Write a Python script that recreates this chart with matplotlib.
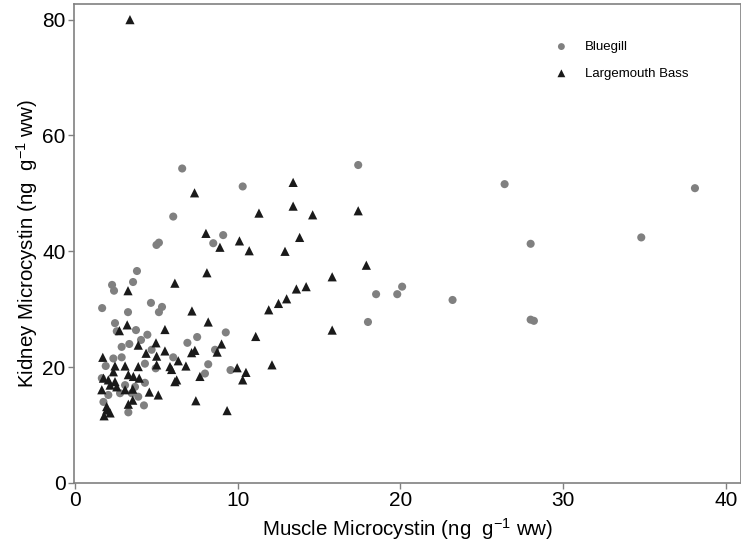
import matplotlib
matplotlib.use("Agg")
import matplotlib.pyplot as plt

plt.rcParams['font.family'] = ['Liberation Sans', 'DejaVu Sans']
plt.rcParams['mathtext.fontset'] = 'custom'
plt.rcParams['mathtext.rm'] = 'Liberation Sans'
plt.rcParams['mathtext.it'] = 'Liberation Sans'

bluegill_x = [1.66, 3.80, 3.56, 2.27, 2.39, 3.25, 4.66, 5.34, 5.15, 2.45,
              6.58, 10.3, 6.03, 5.15, 5.00, 9.10, 8.49, 17.4, 18.5, 18.0,
              9.26, 7.50, 8.60, 26.4, 38.1, 34.8, 28.0, 20.1, 19.8, 23.2,
              28.0, 28.2, 2.56, 3.74, 4.44, 2.86, 3.33, 4.05, 4.70, 6.90,
              2.35, 2.86, 1.88, 4.29, 4.95, 6.03, 1.64, 4.29, 3.07, 3.68,
              2.76, 3.48, 3.88, 2.04, 1.74, 4.23, 3.27, 8.18, 7.98, 9.55]
bluegill_y = [30.2, 36.6, 34.7, 34.2, 33.2, 29.5, 31.1, 30.4, 29.5, 27.6,
              54.3, 51.2, 46.0, 41.5, 41.1, 42.8, 41.4, 54.9, 32.6, 27.8,
              26.0, 25.2, 23.0, 51.6, 50.9, 42.4, 41.3, 33.9, 32.6, 31.6,
              28.2, 28.0, 26.2, 26.4, 25.6, 23.5, 24.0, 24.7, 23.0, 24.2,
              21.5, 21.7, 20.2, 20.6, 19.8, 21.7, 18.1, 17.3, 16.9, 16.6,
              15.5, 15.5, 14.9, 15.2, 14.0, 13.4, 12.2, 20.5, 18.9, 19.5]

bass_x = [3.37, 3.25, 6.13, 8.10, 7.18, 8.18, 3.20, 7.34, 8.04, 8.90,
          10.1, 10.7, 11.3, 13.4, 13.4, 14.6, 17.4, 13.8, 12.9, 17.9,
          15.8, 14.2, 13.6, 13.0, 12.5, 11.9, 15.8, 11.1, 9.00, 8.73,
          7.16, 7.36, 2.72, 5.52, 3.88, 4.97, 4.36, 5.01, 5.52, 1.70,
          2.45, 3.07, 3.88, 5.01, 5.83, 5.93, 6.34, 6.81, 2.35, 1.74,
          2.04, 2.45, 3.27, 3.58, 3.94, 6.24, 6.13, 7.67, 1.64, 2.15,
          2.56, 3.07, 3.54, 4.56, 5.11, 7.42, 3.54, 3.27, 1.94, 2.15,
          1.78, 1.94, 9.96, 10.5, 10.3, 9.34, 12.1]
bass_y = [80.0, 33.2, 34.5, 36.3, 29.7, 27.8, 27.3, 50.1, 43.1, 40.7,
          41.8, 40.1, 46.6, 51.9, 47.8, 46.3, 47.0, 42.4, 40.0, 37.6,
          35.6, 33.9, 33.5, 31.8, 31.0, 29.9, 26.4, 25.3, 24.0, 22.6,
          22.5, 22.9, 26.3, 26.5, 23.8, 24.2, 22.4, 21.9, 22.8, 21.7,
          20.2, 20.2, 20.1, 20.4, 20.1, 19.6, 21.1, 20.2, 19.2, 18.1,
          17.8, 17.5, 18.7, 18.4, 18.1, 17.8, 17.5, 18.4, 16.1, 16.9,
          16.6, 16.1, 16.2, 15.7, 15.2, 14.2, 14.3, 13.6, 12.6, 12.1,
          11.6, 13.2, 19.9, 19.1, 17.8, 12.5, 20.4]

x_ticks = [0, 10, 20, 30, 40]
y_ticks = [0, 20, 40, 60, 80]

fig = plt.figure(figsize=(7.41, 5.5), dpi=100)
ax = fig.add_axes([74/741, 67/550, 1 - 74/741 - 0.5/741, (483-4)/550])

ax.scatter(bluegill_x, bluegill_y, marker='o', s=34, color='#808080',
           edgecolors='none', label='Bluegill', zorder=3)
ax.scatter(bass_x, bass_y, marker='^', s=44, color='#1a1a1a',
           edgecolors='none', label='Largemouth Bass', zorder=3)

ax.set_xlim(-0.07, 40.9)
ax.set_ylim(0, 82.7)
ax.set_xticks(x_ticks)
ax.set_yticks(y_ticks)
ax.tick_params(axis='both', labelsize=15, length=4, width=1, color='#808080',
               direction='out', pad=2)
for sp in ax.spines.values():
    sp.set_color('#808080')
    sp.set_linewidth(1.2)

ax.set_xlabel(r'Muscle Microcystin (ng  g$^{-1}$ ww)', fontsize=14.8, labelpad=4)
ax.set_ylabel(r'Kidney Microcystin (ng  g$^{-1}$ ww)', fontsize=14.8, labelpad=2)

leg = ax.legend(loc='upper right', bbox_to_anchor=(0.94, 0.948), frameon=False,
                fontsize=9.5, handletextpad=0.8, labelspacing=1.1,
                markerscale=0.85)

fig.savefig('out.png', dpi=100)
